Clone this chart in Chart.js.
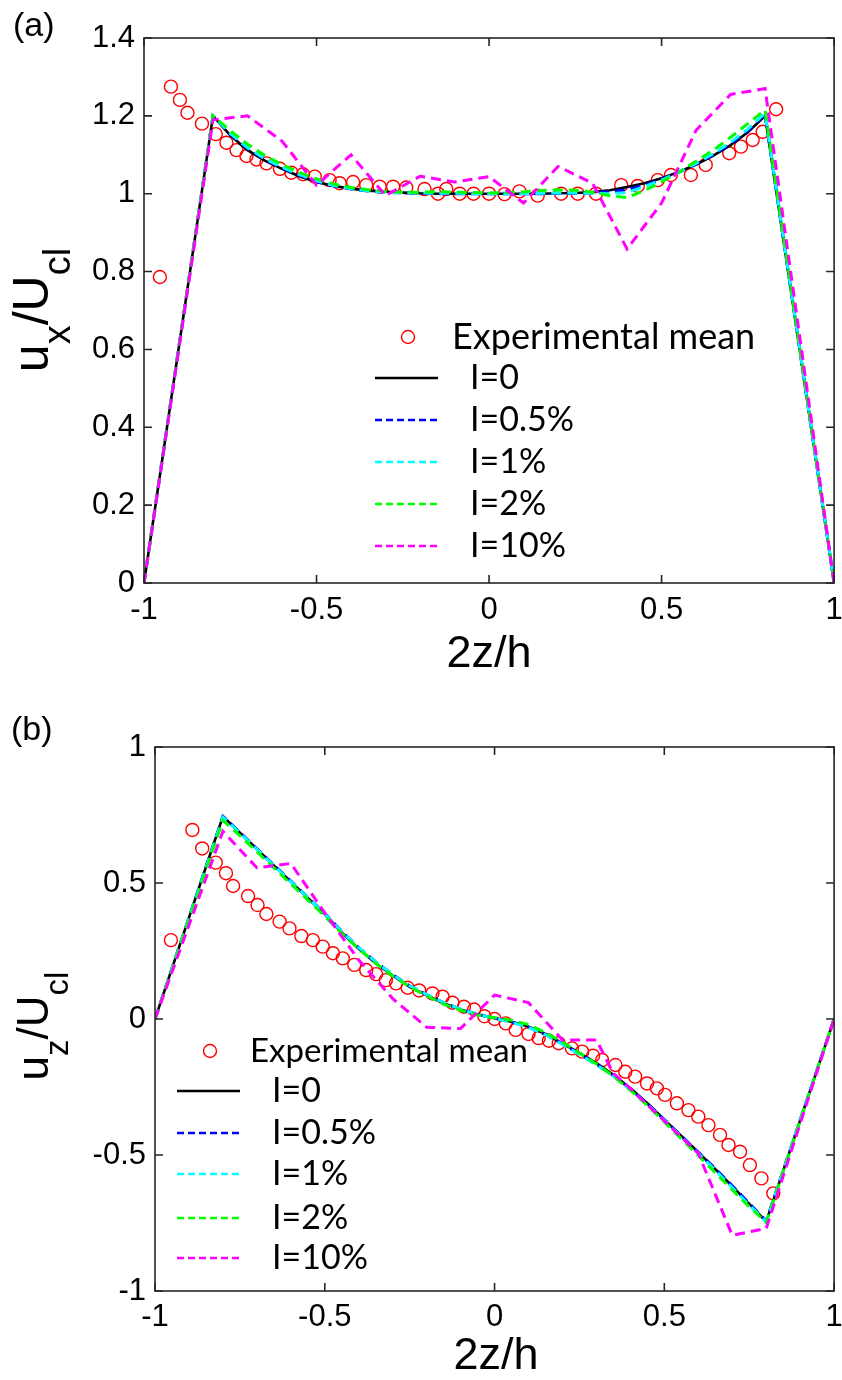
<!DOCTYPE html>
<html>
<head>
<title>Velocity profiles</title>
<script src="https://cdn.jsdelivr.net/npm/chart.js"></script>
<style>
  body { margin: 0; background: #fff; }
  .panel { position: absolute; left: 0; width: 842px; height: 690px; }
  #panelA { top: 0; }
  #panelB { top: 690px; }
</style>
</head>
<body>
<div class="panel" id="panelA"><canvas id="chartA" width="842" height="690"></canvas></div>
<div class="panel" id="panelB"><canvas id="chartB" width="842" height="690"></canvas></div>
<script>
// ---- data ----
const seriesLabels = ['Experimental mean', 'I=0', 'I=0.5%', 'I=1%', 'I=2%', 'I=10%'];
const seriesColors = ['#ff0000', '#000000', '#0000ff', '#00ffff', '#00ff00', '#ff00ff'];

const xTicks = [-1, -0.5, 0, 0.5, 1];
const yTicksA = [0, 0.2, 0.4, 0.6, 0.8, 1, 1.2, 1.4];
const yTicksB = [-1, -0.5, 0, 0.5, 1];

// simulation grid (2z/h)
const simX = [-1, -0.8, -0.75, -0.7, -0.65, -0.6, -0.55, -0.5, -0.45, -0.4, -0.35, -0.3, -0.25, -0.2, -0.15, -0.1, -0.05, 0,
  0.05, 0.1, 0.15, 0.2, 0.25, 0.3, 0.35, 0.4, 0.45, 0.5, 0.55, 0.6, 0.65, 0.7, 0.75, 0.8, 1];

// (a) u_x / U_cl
const expA_x = [-0.954, -0.922, -0.896, -0.874, -0.832, -0.792, -0.761, -0.732, -0.703, -0.674, -0.645, -0.606, -0.573, -0.539,
  -0.505, -0.462, -0.433, -0.394, -0.356, -0.317, -0.278, -0.240, -0.187, -0.148, -0.124, -0.085, -0.045, 0.0, 0.045, 0.088,
  0.141, 0.209, 0.257, 0.31, 0.383, 0.431, 0.489, 0.527, 0.585, 0.628, 0.696, 0.73, 0.764, 0.793, 0.832];
const expA_y = [0.786, 1.275, 1.241, 1.208, 1.18, 1.153, 1.131, 1.112, 1.097, 1.088, 1.078, 1.064, 1.054, 1.05,
  1.044, 1.035, 1.027, 1.03, 1.022, 1.018, 1.018, 1.016, 1.012, 1.0, 1.012, 1.0, 1.0, 1.0, 0.999, 1.006,
  0.995, 1.0, 1.0, 1.0, 1.022, 1.02, 1.035, 1.048, 1.048, 1.074, 1.104, 1.121, 1.138, 1.159, 1.217];
const uxI0 = [0, 1.2, 1.15, 1.112, 1.085, 1.064, 1.045, 1.03, 1.02, 1.013, 1.008, 1.005, 1.003, 1.001, 1, 1, 1, 1,
  1, 1, 1, 1.001, 1.002, 1.004, 1.009, 1.017, 1.027, 1.04, 1.056, 1.075, 1.098, 1.125, 1.158, 1.2, 0];
const uxI05 = [0, 1.2, 1.153, 1.116, 1.088, 1.066, 1.047, 1.031, 1.02, 1.012, 1.007, 1.004, 1.002, 1.001, 1, 1, 1, 1,
  1, 1, 1, 1.001, 1.001, 1.002, 1.005, 1.01, 1.022, 1.037, 1.055, 1.076, 1.1, 1.128, 1.162, 1.205, 0];
const uxI1 = [0, 1.2, 1.155, 1.118, 1.09, 1.068, 1.049, 1.033, 1.021, 1.013, 1.007, 1.004, 1.002, 1.002, 1.001, 1.001, 1, 1,
  1, 1, 1.001, 1.002, 1.002, 1.001, 1.0, 1.003, 1.018, 1.035, 1.055, 1.078, 1.103, 1.132, 1.166, 1.207, 0];
const uxI2 = [0, 1.2, 1.162, 1.127, 1.098, 1.075, 1.055, 1.038, 1.025, 1.016, 1.01, 1.006, 1.004, 1.004, 1.005, 1.004, 1.003, 1.002,
  1.003, 1.005, 1.008, 1.01, 1.009, 1.004, 0.995, 0.99, 1.008, 1.03, 1.056, 1.083, 1.112, 1.145, 1.18, 1.215, 0];
const simX10A = [-1, -0.8, -0.7, -0.6, -0.5, -0.4, -0.3, -0.2, -0.1, 0, 0.1, 0.2, 0.3, 0.4, 0.5, 0.6, 0.7, 0.8, 1];
const uxI10 = [0, 1.19, 1.2, 1.135, 1.022, 1.1, 0.995, 1.045, 1.03, 1.044, 0.976, 1.07, 1.027, 0.858, 0.976, 1.163, 1.255, 1.27, 0];

// (b) u_z / U_cl
const expB_x = [-0.953, -0.89, -0.861, -0.821, -0.791, -0.77, -0.726, -0.698, -0.672, -0.633, -0.604, -0.569, -0.535, -0.506,
  -0.476, -0.447, -0.413, -0.378, -0.349, -0.32, -0.29, -0.256, -0.222, -0.183, -0.153, -0.124, -0.09, -0.06, -0.03, 0.0,
  0.033, 0.062, 0.1, 0.13, 0.16, 0.189, 0.228, 0.258, 0.29, 0.317, 0.356, 0.385, 0.414, 0.449, 0.478, 0.502, 0.537,
  0.571, 0.6, 0.63, 0.664, 0.689, 0.723, 0.752, 0.786, 0.821];
const expB_y = [0.29, 0.695, 0.627, 0.575, 0.536, 0.489, 0.452, 0.419, 0.386, 0.358, 0.333, 0.305, 0.29, 0.266,
  0.242, 0.223, 0.199, 0.18, 0.165, 0.143, 0.131, 0.115, 0.105, 0.094, 0.082, 0.06, 0.045, 0.035, 0.01, 0.0,
  -0.016, -0.04, -0.055, -0.07, -0.08, -0.089, -0.108, -0.12, -0.135, -0.151, -0.169, -0.194, -0.212, -0.237, -0.255, -0.279, -0.31,
  -0.335, -0.359, -0.39, -0.426, -0.463, -0.488, -0.537, -0.586, -0.641];
const uzI0 = [0, 0.745, 0.685, 0.625, 0.565, 0.505, 0.445, 0.385, 0.318, 0.258, 0.205, 0.16, 0.118, 0.088, 0.058, 0.035, 0.017, 0.003,
  -0.01, -0.028, -0.055, -0.09, -0.125, -0.162, -0.205, -0.255, -0.31, -0.37, -0.43, -0.49, -0.552, -0.615, -0.68, -0.745, 0];
const uzI05 = [0, 0.745, 0.686, 0.626, 0.566, 0.507, 0.447, 0.388, 0.322, 0.262, 0.21, 0.163, 0.122, 0.09, 0.06, 0.036, 0.017, 0.003,
  -0.011, -0.03, -0.057, -0.092, -0.128, -0.166, -0.208, -0.257, -0.312, -0.37, -0.43, -0.49, -0.55, -0.613, -0.678, -0.743, 0];
const uzI1 = [0, 0.742, 0.684, 0.624, 0.564, 0.505, 0.446, 0.386, 0.321, 0.262, 0.21, 0.163, 0.122, 0.09, 0.06, 0.036, 0.017, 0.002,
  -0.012, -0.031, -0.058, -0.093, -0.13, -0.168, -0.21, -0.26, -0.315, -0.373, -0.433, -0.494, -0.556, -0.62, -0.684, -0.745, 0];
const uzI2 = [0, 0.73, 0.674, 0.615, 0.556, 0.497, 0.438, 0.378, 0.315, 0.257, 0.205, 0.158, 0.118, 0.085, 0.055, 0.032, 0.015, 0.005,
  -0.005, -0.02, -0.05, -0.085, -0.125, -0.165, -0.21, -0.262, -0.318, -0.378, -0.44, -0.502, -0.565, -0.628, -0.69, -0.748, 0];
const simX10B = [-1, -0.8, -0.7, -0.6, -0.5, -0.4, -0.3, -0.2, -0.1, 0, 0.1, 0.2, 0.3, 0.35, 0.4, 0.5, 0.6, 0.7, 0.8, 1];
const uzI10 = [0, 0.69, 0.556, 0.572, 0.39, 0.217, 0.075, -0.03, -0.035, 0.088, 0.06, -0.077, -0.077, -0.2, -0.256, -0.375, -0.494, -0.795, -0.77, 0];

// ---- helpers ----
function pts(xs, ys) {
  return xs.map((x, i) => ({ x: x, y: ys[i] }));
}

function buildDatasets(ex, ey, lines) {
  const sets = [{
    label: seriesLabels[0],
    data: pts(ex, ey),
    showLine: false,
    pointStyle: 'circle',
    pointRadius: 6.5,
    pointBorderWidth: 1.4,
    pointBorderColor: seriesColors[0],
    pointBackgroundColor: 'rgba(0,0,0,0)',
    order: 6
  }];
  lines.forEach((l, i) => {
    sets.push({
      label: seriesLabels[i + 1],
      data: pts(l[0], l[1]),
      borderColor: seriesColors[i + 1],
      borderWidth: i === 0 ? 2.6 : 3,
      borderDash: i === 0 ? [] : [10, 6],
      pointRadius: 0,
      tension: 0,
      fill: false,
      order: 5 - i
    });
  });
  return sets;
}

// MATLAB-like tick text: 1 instead of 1.0
function tickText(v) {
  return String(Math.round(v * 10) / 10);
}

// box with inward ticks on all four sides
const matlabFrame = {
  id: 'matlabFrame',
  afterDatasetsDraw(chart) {
    const ctx = chart.ctx, a = chart.chartArea, sx = chart.scales.x, sy = chart.scales.y;
    ctx.save();
    ctx.strokeStyle = '#262626';
    ctx.lineWidth = 1.6;
    ctx.setLineDash([]);
    ctx.strokeRect(a.left, a.top, a.right - a.left, a.bottom - a.top);
    ctx.beginPath();
    sx.ticks.forEach(t => {
      const p = sx.getPixelForValue(t.value);
      ctx.moveTo(p, a.bottom); ctx.lineTo(p, a.bottom - 8);
      ctx.moveTo(p, a.top); ctx.lineTo(p, a.top + 8);
    });
    sy.ticks.forEach(t => {
      const p = sy.getPixelForValue(t.value);
      ctx.moveTo(a.left, p); ctx.lineTo(a.left + 8, p);
      ctx.moveTo(a.right, p); ctx.lineTo(a.right - 8, p);
    });
    ctx.stroke();
    ctx.restore();
  }
};

// panel letter, axis titles, legend
const annot = {
  id: 'annot',
  afterDraw(chart, args, o) {
    const ctx = chart.ctx;
    ctx.save();
    ctx.fillStyle = '#000';
    ctx.textBaseline = 'middle';
    ctx.textAlign = 'left';
    ctx.font = '34px "Liberation Sans", Arial, sans-serif';
    ctx.fillText(o.panel, o.panelPos[0], o.panelPos[1]);

    ctx.textAlign = 'center';
    ctx.font = '45px "Liberation Sans", Arial, sans-serif';
    ctx.fillText('2z/h', o.xTitlePos[0], o.xTitlePos[1]);

    // rotated y title with subscripts
    ctx.save();
    ctx.translate(o.yTitlePos[0], o.yTitlePos[1]);
    ctx.rotate(-Math.PI / 2);
    ctx.textAlign = 'left';
    ctx.textBaseline = 'alphabetic';
    const mainF = o.yTitleSize + 'px "Liberation Sans", Arial, sans-serif';
    const subF = Math.round(o.yTitleSize * 0.75) + 'px "Liberation Sans", Arial, sans-serif';
    let total = 0;
    o.yTitle.forEach(p => { ctx.font = p[1] ? subF : mainF; total += ctx.measureText(p[0]).width; });
    let cx = -total / 2;
    o.yTitle.forEach(p => {
      ctx.font = p[1] ? subF : mainF;
      ctx.fillText(p[0], cx, p[1] ? o.subShift : 0);
      cx += ctx.measureText(p[0]).width;
    });
    ctx.restore();

    // legend
    const lg = o.legend, ds = chart.data.datasets;
    ctx.textAlign = 'left';
    ctx.textBaseline = 'middle';
    ctx.beginPath();
    ctx.arc(lg.markerX, lg.markerY, 6.5, 0, Math.PI * 2);
    ctx.strokeStyle = ds[0].pointBorderColor;
    ctx.lineWidth = 1.4;
    ctx.stroke();
    ctx.font = lg.expFont + 'px Lato, "Noto Sans", sans-serif';
    ctx.fillText(ds[0].label, lg.expTextX, lg.markerY);
    ctx.font = lg.font + 'px Lato, "Noto Sans", sans-serif';
    for (let i = 1; i < ds.length; i++) {
      const yy = lg.rows[i - 1];
      ctx.beginPath();
      ctx.setLineDash(ds[i].borderDash.length ? [7, 4] : []);
      ctx.strokeStyle = ds[i].borderColor;
      ctx.lineWidth = 2.4;
      ctx.moveTo(lg.lineX1, yy);
      ctx.lineTo(lg.lineX2, yy);
      ctx.stroke();
      ctx.setLineDash([]);
      ctx.fillText(ds[i].label, lg.textX, yy);
    }
    ctx.restore();
  }
};

function makeChart(id, datasets, cfg) {
  const tickFont = { family: '"Liberation Sans", Arial, sans-serif', size: 31 };
  return new Chart(document.getElementById(id), {
    type: 'line',
    data: { datasets: datasets },
    options: {
      responsive: false,
      animation: false,
      devicePixelRatio: 1,
      layout: { padding: { left: 0, right: cfg.padRight, top: cfg.padTop, bottom: 0 } },
      plugins: {
        legend: { display: false },
        tooltip: { enabled: false },
        annot: cfg.annot
      },
      scales: {
        x: {
          type: 'linear',
          min: -1,
          max: 1,
          grid: { display: false, drawTicks: false },
          border: { display: false },
          ticks: { color: '#000', font: tickFont, padding: cfg.xPad, maxRotation: 0, callback: tickText },
          afterBuildTicks: s => { s.ticks = xTicks.map(v => ({ value: v })); },
          afterFit: s => { s.height = cfg.xHeight; s.paddingLeft = 0; s.paddingRight = 0; }
        },
        y: {
          type: 'linear',
          min: cfg.yTicks[0],
          max: cfg.yTicks[cfg.yTicks.length - 1],
          grid: { display: false, drawTicks: false },
          border: { display: false },
          ticks: { color: '#000', font: tickFont, padding: 9, callback: tickText },
          afterBuildTicks: s => { s.ticks = cfg.yTicks.map(v => ({ value: v })); },
          afterFit: s => { s.width = cfg.yWidth; s.paddingTop = 0; s.paddingBottom = 0; }
        }
      }
    },
    plugins: [matlabFrame, annot]
  });
}

// ---- panel (a) ----
makeChart('chartA',
  buildDatasets(expA_x, expA_y, [[simX, uxI0], [simX, uxI05], [simX, uxI1], [simX, uxI2], [simX10A, uxI10]]),
  {
    padTop: 38, padRight: 7, xHeight: 107, yWidth: 144, xPad: 9, yTicks: yTicksA,
    annot: {
      panel: '(a)', panelPos: [13, 27],
      xTitlePos: [489, 655],
      yTitle: [['u', 0], ['x', 1], ['/U', 0], ['cl', 1]], yTitlePos: [48, 310], yTitleSize: 50, subShift: 22,
      legend: { markerX: 408, markerY: 337, expTextX: 452, expFont: 36, font: 34,
        lineX1: 375, lineX2: 438, textX: 470, rows: [378, 420, 462, 504, 546] }
    }
  });

// ---- panel (b) ----
makeChart('chartB',
  buildDatasets(expB_x, expB_y, [[simX, uzI0], [simX, uzI05], [simX, uzI1], [simX, uzI2], [simX10B, uzI10]]),
  {
    padTop: 57, padRight: 6, xHeight: 89, yWidth: 155, xPad: 8, yTicks: yTicksB,
    annot: {
      panel: '(b)', panelPos: [11, 41],
      xTitlePos: [496, 667],
      yTitle: [['u', 0], ['z', 1], ['/U', 0], ['cl', 1]], yTitlePos: [48, 336], yTitleSize: 44, subShift: 20,
      legend: { markerX: 210, markerY: 361, expTextX: 250, expFont: 33, font: 34,
        lineX1: 177, lineX2: 240, textX: 272, rows: [401, 443, 484, 528, 568] }
    }
  });
</script>
</body>
</html>
